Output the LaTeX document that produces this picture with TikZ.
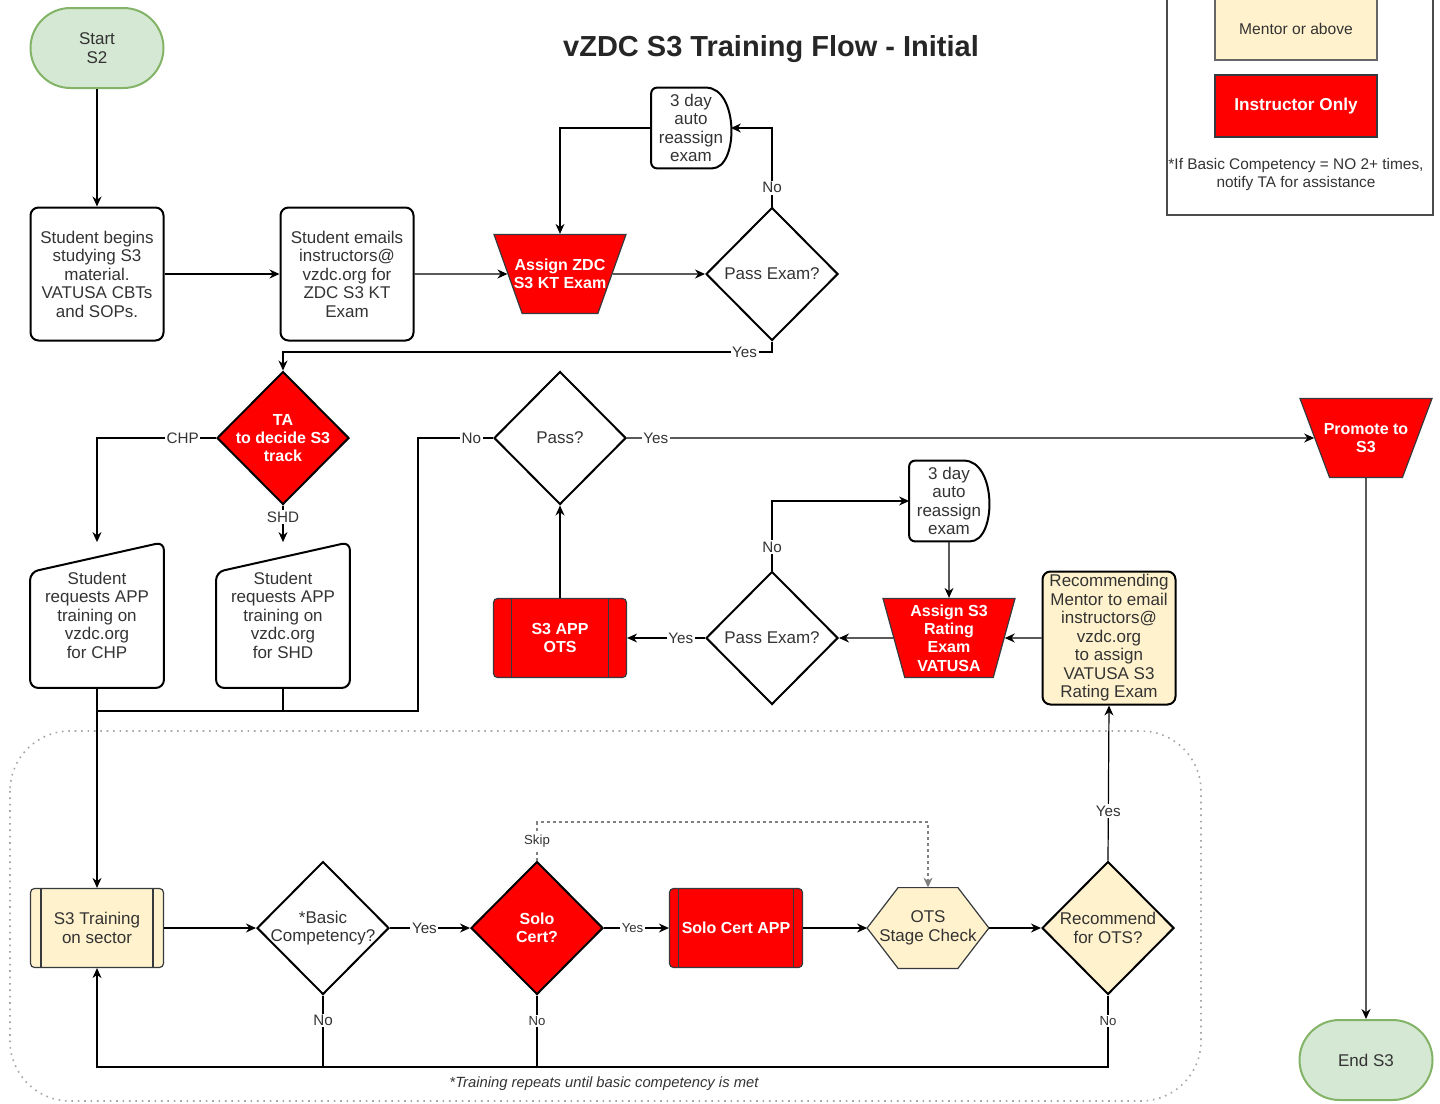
\documentclass[tikz,border=0pt]{standalone}
\usepackage{fontspec}
\setmainfont{Liberation Sans}
\usetikzlibrary{shapes.geometric,arrows.meta,positioning,backgrounds}

\definecolor{redfill}{HTML}{FF0000}
\definecolor{creamfill}{HTML}{FFF2CC}
\definecolor{greenfill}{HTML}{D5E8D4}
\definecolor{greenline}{HTML}{82B366}
\definecolor{darkline}{HTML}{36393D}
\definecolor{textgray}{HTML}{333333}

\tikzset{
  base/.style={font=\fontsize{8.5}{9.25}\selectfont, text=textgray, align=center, inner sep=1pt},
  redtext/.style={font=\fontsize{8}{9.2}\selectfont\bfseries, text=white},
  procbox/.style={base, draw=black, line width=1pt, rounded corners=4pt, minimum width=66.5pt, minimum height=66.5pt},
  startstop/.style={base, draw=greenline, fill=greenfill, line width=1pt, rounded corners=20pt, minimum width=66.5pt, minimum height=40pt},
  decision/.style={base, diamond, aspect=1, draw=black, line width=1pt, inner sep=-2pt, minimum width=66pt, minimum height=66.5pt},
  manualop/.style={base, redtext, trapezium, shape border rotate=180, trapezium left angle=#1, trapezium right angle=#1,
    trapezium stretches body=true, draw=darkline, fill=redfill, line width=0.6pt, inner sep=0pt, minimum width=66pt, minimum height=39.5pt},
  manualop/.default=70,
  subproc/.style={base, draw=darkline, line width=0.6pt, rounded corners=2pt, minimum width=66.5pt, minimum height=39.5pt,
    path picture={\draw[darkline, line width=0.8pt] ([xshift=#1]path picture bounding box.north west) -- ([xshift=#1]path picture bounding box.south west)
      ([xshift=-#1]path picture bounding box.north east) -- ([xshift=-#1]path picture bounding box.south east);}},
  subproc/.default=5pt,
  delaybox/.style={base, minimum width=39.5pt, minimum height=40pt},
  manualin/.style={base, minimum width=66.5pt, minimum height=72.5pt},
  hexbox/.style={base, minimum width=60.5pt, minimum height=40pt},
  legendbox/.style={base, line width=0.6pt, font=\fontsize{7.8}{9}\selectfont, minimum width=81pt, minimum height=31pt},
  lbl/.style={font=\fontsize{7.6}{8}\selectfont, text=textgray, fill=white, inner sep=0.8pt},
  lblsm/.style={lbl, font=\fontsize{6.6}{7}\selectfont},
  conn/.style={draw=black, line width=0.6pt},
  arr/.style={conn, -{Stealth[length=5pt, width=4.5pt]}},
  skiparr/.style={draw=gray, line width=0.6pt, dash pattern=on 1.5pt off 1.5pt, -{Stealth[length=5pt, width=4.5pt]}}
}

\begin{document}
\begin{tikzpicture}[x=0.5pt, y=-0.5pt]
\useasboundingbox (0,0) rectangle (1440,1103);

% legend
\draw[black!70, line width=0.6pt] (1167,-10) rectangle (1433,215);
\node[legendbox, fill=creamfill, draw=black!60] (mentor) at (1296,29) {Mentor or above};
\node[legendbox, fill=redfill, draw=darkline, font=\fontsize{8.6}{10}\selectfont\bfseries, text=white] (instr) at (1296,106) {Instructor Only};
\node[base, font=\fontsize{7.7}{8.6}\selectfont, below=9.4pt of instr] (note) {*If Basic Competency = NO 2+ times,\\notify TA for assistance};

\node[base, font=\fontsize{14.5}{16}\selectfont\bfseries, text=black!85] (title) at (771,49) {vZDC S3 Training Flow - Initial};

% first row
\node[startstop] (start) at (97,48) {Start\\S2};
\node[procbox] (begins) at (97,274) {Student begins\\studying S3\\material.\\VATUSA CBTs\\and SOPs.};
\node[procbox] (emails) at (347,274) {Student emails\\instructors@\\vzdc.org for\\ZDC S3 KT\\Exam};
\node[manualop=47, inner xsep=-4.2pt] (ktexam) at (560,274) {Assign ZDC\\S3 KT Exam};
\node[decision] (passkt) at (772,274) {Pass Exam?};
\node[delaybox] (delaykt) at (691,128) {3 day\\auto\\reassign\\exam};

% second row
\node[decision, fill=redfill, redtext] (track) at (283,438) {TA\\to decide S3\\track};
\node[manualin] (reqchp) at (97,615) {Student\\requests APP\\training on\\vzdc.org\\for CHP};
\node[manualin] (reqshd) at (283,615) {Student\\requests APP\\training on\\vzdc.org\\for SHD};
\node[decision] (passapp) at (560,438) {Pass?};
\node[manualop=45, inner xsep=-2.9pt] (promote) at (1366,438) {Promote to\\S3};
\node[subproc=9pt, fill=redfill, redtext] (appots) at (560,638) {S3 APP\\OTS};
\node[decision] (passrt) at (772,638) {Pass Exam?};
\node[manualop=72] (rtexam) at (949,638) {Assign S3\\Rating\\Exam\\VATUSA};
\node[procbox, fill=creamfill] (recmentor) at (1109,638) {Recommending\\Mentor to email\\instructors@\\vzdc.org\\to assign\\VATUSA S3\\Rating Exam};
\node[delaybox] (delayrt) at (949,501) {3 day\\auto\\reassign\\exam};

% training loop
\node[subproc=5.25pt, fill=creamfill] (training) at (97,928) {S3 Training\\on sector};
\node[decision] (basic) at (323,928) {*Basic\\Competency?};
\node[decision, fill=redfill, redtext] (solo) at (537,928) {Solo\\Cert?};
\node[subproc=4.5pt, fill=redfill, redtext] (soloapp) at (736,928) {Solo Cert APP};
\node[hexbox] (ots) at (928,928) {OTS\\Stage Check};
\node[decision, fill=creamfill] (recots) at (1108,928) {Recommend\\for OTS?};
\node[startstop] (finish) at (1366,1060) {End S3};
\node[base, font=\fontsize{7.4}{8}\selectfont\itshape] (repeat) at (604,1084) {*Training repeats until basic competency is met};

\foreach \d in {delaykt,delayrt}
  \draw[line width=1pt, rounded corners=3pt] ([xshift=-12.5pt]\d.north east) -- (\d.north west) -- (\d.south west) -- ([xshift=-12.5pt]\d.south east)
    [sharp corners] .. controls +(16.5pt,0) and +(16.5pt,0) .. ([xshift=-12.5pt]\d.north east);
\foreach \m in {reqchp,reqshd}
  \draw[line width=1pt, rounded corners=4pt] (\m.south west) -- ([yshift=-15pt]\m.north west) -- (\m.north east) -- (\m.south east) -- cycle;

\begin{scope}[on background layer]
  \draw[gray!70, line width=0.8pt, dash pattern=on 0.8pt off 2.4pt, rounded corners=30pt] (10,731) rectangle (1201,1101);
  \filldraw[fill=creamfill, draw=darkline, line width=0.6pt] (ots.west) -- ([xshift=15.5pt]ots.north west) -- ([xshift=-15.5pt]ots.north east)
    -- (ots.east) -- ([xshift=-15.5pt]ots.south east) -- ([xshift=15.5pt]ots.south west) -- cycle;
\end{scope}

\coordinate (ktyes) at (772,352);
\coordinate (merge) at (97,711);
\coordinate (nobend) at (418,711);
\coordinate (loopback) at (97,1067);
\coordinate (skipbend) at (537,822);

\draw[arr] (start) -- (begins);
\draw[arr] (begins) -- (emails);
\draw[arr] (emails) -- (ktexam);
\draw[arr] (ktexam) -- (passkt);
\draw[arr] (passkt.north) |- node[lbl, pos=0.12] {No} (delaykt.east);
\draw[arr] (delaykt.west) -| (ktexam);
\draw[arr] (passkt.south) -- (ktyes) -| node[lbl, pos=0.028] {Yes} (track.north);

\draw[arr] (track.west) -| node[lbl, pos=0.14] {CHP} (reqchp.north);
\draw[arr] (track.south) -- node[lbl, pos=0.32] {SHD} (reqshd.north);
\draw[arr] (passapp) -- node[lbl, pos=0.042] {Yes} (promote);
\draw[conn] (passapp.west) -| node[lbl, pos=0.145] {No} (nobend) -- (merge);
\draw[conn] (reqshd.south) -- (reqshd.south |- merge);
\draw[arr] (reqchp.south) -- (training.north);
\draw[arr] (appots.north) -- (passapp.south);
\draw[arr] (recmentor) -- (rtexam);
\draw[arr] (rtexam) -- (passrt);
\draw[arr] (passrt.west) -- node[lbl, pos=0.31] {Yes} (appots.east);
\draw[arr] (passrt.north) |- node[lbl, pos=0.17] {No} (delayrt.west);
\draw[arr] (delayrt) -- (rtexam);
\draw[arr] (promote) -- (finish);

\draw[arr] (training) -- (basic);
\draw[arr] (basic) -- node[lbl, pos=0.43] {Yes} (solo);
\draw[arr] (solo) -- node[lblsm, pos=0.44] {Yes} (soloapp);
\draw[arr] (soloapp) -- (ots);
\draw[arr] (ots) -- (recots);
\draw[arr] (recots.north) -- node[lbl, pos=0.32] {Yes} (recmentor.south);
\draw[arr] (recots.south) |- node[lblsm, pos=0.18] {No} (loopback) -- (training.south);
\draw[conn] (basic.south) -- node[lbl, pos=0.35] {No} (basic.south |- loopback);
\draw[conn] (solo.south) -- node[lblsm, pos=0.36] {No} (solo.south |- loopback);
\draw[skiparr] (solo.north) -- node[lblsm] {Skip} (skipbend) -| (ots.north);
\end{tikzpicture}
\end{document}
